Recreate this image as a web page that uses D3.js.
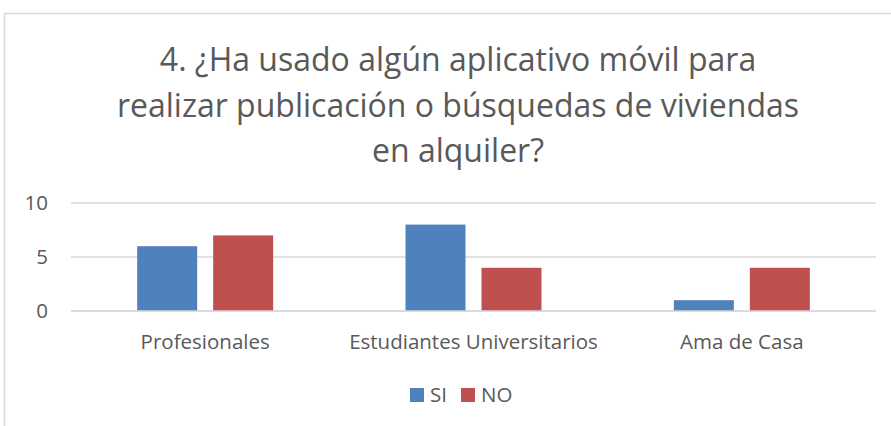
<!DOCTYPE html>
<html>
<head>
<meta charset="utf-8">
<script src="https://cdn.jsdelivr.net/npm/d3@7"></script>
<style>
  html, body { margin: 0; padding: 0; background: #fff; }
  svg { display: block; }
  text { font-family: "Open Sans", "Noto Sans", sans-serif; fill: #595959; }
</style>
</head>
<body>
<svg id="chart" width="891" height="426"></svg>
<script>
// Survey answers per respondent group
const categories = ["Profesionales", "Estudiantes Universitarios", "Ama de Casa"];
const seriesNames = ["SI", "NO"];
const siValues = [6, 8, 1];
const noValues = [7, 4, 4];
const yTicks = [0, 5, 10];
const titleLines = [
  "4. ¿Ha usado algún aplicativo móvil para",
  "realizar publicación o búsquedas de viviendas",
  "en alquiler?"
];

const colors = { SI: "#4f81bd", NO: "#c0504d" };
const rows = categories.map((c, i) => ({ category: c, SI: siValues[i], NO: noValues[i] }));

const svg = d3.select("#chart");
const W = 891, H = 426;
const labelSize = "20.5px";

// chart frame (right and bottom edges fall outside the view)
svg.append("rect")
  .attr("x", 4.5).attr("y", 13.5)
  .attr("width", W + 10).attr("height", H + 10)
  .attr("fill", "#fff").attr("stroke", "#d9d9d9").attr("stroke-width", 1.5);

// title
const title = svg.append("text")
  .attr("text-anchor", "middle")
  .style("font-size", "32px");
titleLines.forEach((line, i) => {
  title.append("tspan")
    .attr("x", 458).attr("y", 71 + i * 45.5)
    .text(line);
});

const plot = { left: 71, right: 876, top: 203, bottom: 311 };

const x0 = d3.scaleBand()
  .domain(categories)
  .range([plot.left, plot.right])
  .paddingInner(0).paddingOuter(0);

// two 60px bars with a 16px gap, centred in each category
const x1 = d3.scaleBand()
  .domain(seriesNames)
  .range([x0.bandwidth() / 2 - 68, x0.bandwidth() / 2 + 68])
  .paddingInner(16 / 76)
  .paddingOuter(0);

const y = d3.scaleLinear().domain([0, 10]).range([plot.bottom, plot.top]);

// horizontal gridlines
svg.append("g")
  .selectAll("line")
  .data(yTicks)
  .join("line")
  .attr("x1", plot.left).attr("x2", plot.right)
  .attr("y1", d => y(d)).attr("y2", d => y(d))
  .attr("stroke", "#d9d9d9").attr("stroke-width", 1.5);

// y axis labels
const yAxis = d3.axisLeft(y).tickValues(yTicks).tickSize(0).tickPadding(0);
svg.append("g")
  .attr("transform", `translate(${plot.left - 23},0)`)
  .call(yAxis)
  .call(g => g.select(".domain").remove())
  .call(g => g.selectAll("text")
    .style("font-family", "'Open Sans', sans-serif")
    .style("font-size", labelSize)
    .attr("fill", "#595959"));

// bars
svg.append("g")
  .selectAll("g")
  .data(rows)
  .join("g")
  .attr("transform", d => `translate(${x0(d.category)},0)`)
  .selectAll("rect")
  .data(d => seriesNames.map(k => ({ key: k, value: d[k] })))
  .join("rect")
  .attr("x", d => x1(d.key))
  .attr("width", x1.bandwidth())
  .attr("y", d => y(d.value))
  .attr("height", d => y(0) - y(d.value))
  .attr("fill", d => colors[d.key]);

// baseline drawn over the bars
svg.append("line")
  .attr("x1", plot.left).attr("x2", plot.right)
  .attr("y1", y(0)).attr("y2", y(0))
  .attr("stroke", "#d9d9d9").attr("stroke-width", 1.5);

// category labels
const xAxis = d3.axisBottom(x0).tickSize(0).tickPadding(0);
svg.append("g")
  .attr("transform", `translate(0,${plot.bottom + 38})`)
  .call(xAxis)
  .call(g => g.select(".domain").remove())
  .call(g => g.selectAll("text")
    .attr("dy", 0)
    .style("font-family", "'Open Sans', sans-serif")
    .style("font-size", labelSize)
    .attr("fill", "#595959"));

// legend
const legendItems = [
  { key: "SI", sx: 410, tx: 430 },
  { key: "NO", sx: 461, tx: 481 }
];
const legend = svg.append("g");
legend.selectAll("rect")
  .data(legendItems)
  .join("rect")
  .attr("x", d => d.sx).attr("y", 388)
  .attr("width", 14).attr("height", 14)
  .attr("fill", d => colors[d.key]);
legend.selectAll("text")
  .data(legendItems)
  .join("text")
  .attr("x", d => d.tx).attr("y", 402)
  .style("font-size", labelSize)
  .text(d => d.key);
</script>
</body>
</html>
